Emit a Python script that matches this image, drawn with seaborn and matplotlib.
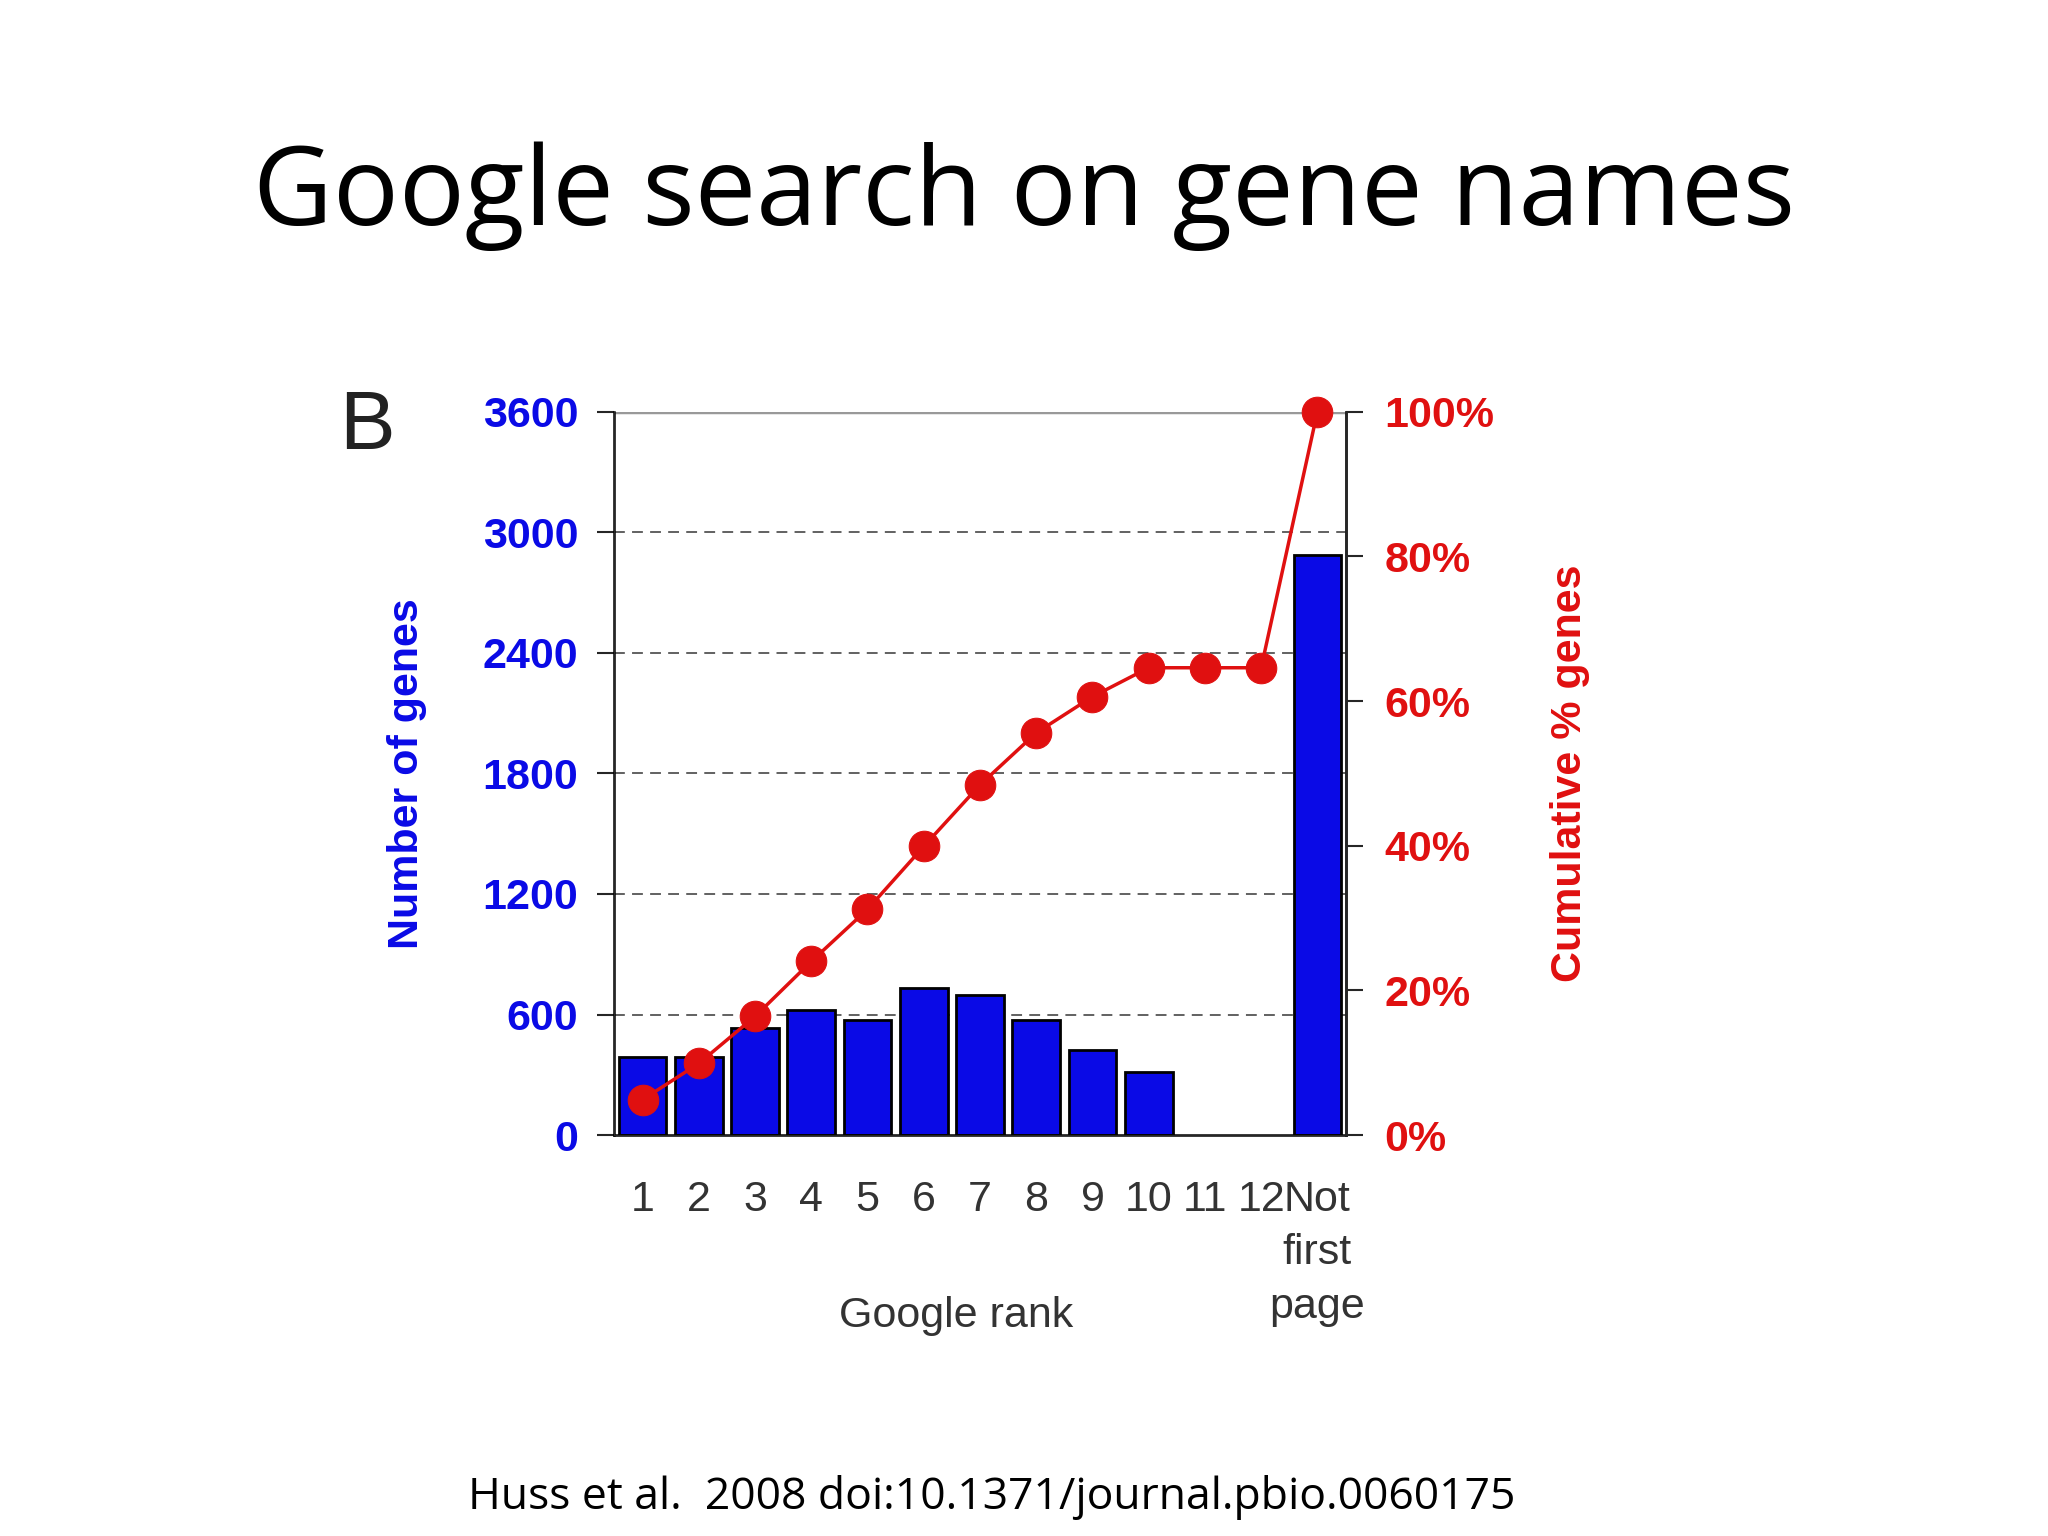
import numpy as np
import matplotlib
matplotlib.use("Agg")
import matplotlib.pyplot as plt
import seaborn as sns

sns.set_style("white")
plt.rcParams['font.family'] = ['Liberation Sans', 'DejaVu Sans']

ranks = ["1", "2", "3", "4", "5", "6", "7", "8", "9", "10", "11", "12", "Not\nfirst\npage"]
counts = [390, 390, 533, 624, 572, 734, 695, 572, 422, 312, np.nan, np.nan, 2886]
cum_pct = [4.9, 9.9, 16.4, 24.0, 31.2, 39.9, 48.4, 55.6, 60.6, 64.6, 64.6, 64.6, 100.0]
left_ticks = [0, 600, 1200, 1800, 2400, 3000, 3600]
right_ticks = [0, 20, 40, 60, 80, 100]

blue = "#0a0ae6"
red = "#e01010"

fig = plt.figure(figsize=(20.48, 15.36), dpi=100)
ax = fig.add_axes([0.300, 0.261, 0.357, 0.471])

for y in left_ticks[1:-1]:
    ax.axhline(y, color="#555555", ls=(0, (6, 4)), lw=1.3, zorder=0)
ax.axhline(3600, color="#999999", lw=2.5, zorder=0)

sns.barplot(x=list(range(len(ranks))), y=counts, color=blue, edgecolor="black",
            linewidth=2, width=0.85, saturation=1, ax=ax, zorder=2)
ax.set_xlim(-0.5, len(ranks) - 0.5)
ax.set_ylim(0, 3600)
ax.set_yticks(left_ticks)
ax.set_yticklabels([str(t) for t in left_ticks], color=blue, fontsize=31, fontweight="bold")
ax.set_xticks(range(len(ranks)))
ax.set_xticklabels(ranks, fontsize=31, color="#333333", va="top", linespacing=1.45)
ax.set_xticks(np.arange(-0.5, len(ranks), 1), minor=True)
ax.tick_params(axis="x", which="major", length=0, pad=32)
ax.tick_params(axis="x", which="minor", length=12, width=1.5, direction="out")
ax.tick_params(axis="y", length=12, width=1.5, direction="out", pad=14, left=True)
ax.set_xlabel("")
ax.set_ylabel("Number of genes", color=blue, fontsize=31, fontweight="bold", labelpad=40)
for s in ["left", "bottom", "right"]:
    ax.spines[s].set_color("black")
    ax.spines[s].set_linewidth(1.8)
ax.spines["top"].set_visible(False)

ax2 = ax.twinx()
sns.lineplot(x=np.arange(len(ranks)), y=cum_pct, color=red, marker="o", markersize=22,
             markeredgecolor=red, linewidth=2.5, ax=ax2, zorder=5, clip_on=False)
ax2.set_ylim(0, 100)
ax2.set_yticks(right_ticks)
ax2.set_yticklabels([f"{t}%" for t in right_ticks], color=red, fontsize=31, fontweight="bold")
ax2.tick_params(axis="y", length=12, width=1.5, direction="out", pad=16, right=True)
ax2.set_ylabel("Cumulative % genes", color=red, fontsize=31, fontweight="bold", labelpad=40,
               rotation=90)
ax2.spines["top"].set_visible(False)
ax2.spines["right"].set_linewidth(1.8)

fig.text(0.467, 0.136, "Google rank", fontsize=31, color="#333333", ha="center")
fig.text(0.179, 0.722, "B", fontsize=60, color="#222222", ha="center", va="center")
fig.text(0.5, 0.872, "Google search on gene names", fontsize=79, ha="center", va="center",
         color="black", family=["Open Sans", "DejaVu Sans"])
fig.text(0.484, 0.025, "Huss et al.  2008 doi:10.1371/journal.pbio.0060175", fontsize=32,
         ha="center", va="center", color="black", family=["Open Sans", "DejaVu Sans"])

fig.savefig("out.png", dpi=100)
